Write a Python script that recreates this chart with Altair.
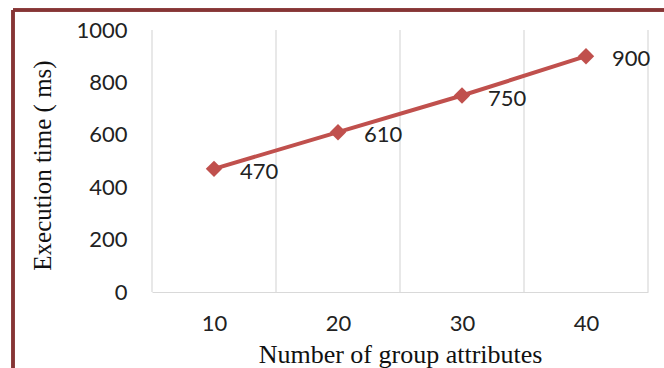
import altair as alt
import pandas as pd

attributes = [10, 20, 30, 40]
exec_time = [470, 610, 750, 900]
grid_positions = [5, 15, 25, 35, 45]

df = pd.DataFrame({"attr": attributes, "time": exec_time})
grid_df = pd.DataFrame({"g": grid_positions, "y0": [0] * 5, "y1": [1000] * 5})

LABEL_FONT = "Lato"
TITLE_FONT = "Liberation Serif"
RED = "#C0504D"

x_scale = alt.Scale(domain=[5, 45], nice=False)
y_scale = alt.Scale(domain=[0, 1000], nice=False)

x_axis = alt.Axis(
    values=attributes,
    format="d",
    title="Number of group attributes",
    titleFont=TITLE_FONT,
    titleFontSize=26,
    titleFontWeight="normal",
    titleColor="#111111",
    titleY=62,
    titleBaseline="middle",
    labelFont=LABEL_FONT,
    labelFontSize=22,
    labelColor="#222222",
    labelPadding=21,
    ticks=False,
    grid=False,
    domainColor="#D9D9D9",
    domainWidth=1.2,
)
y_axis = alt.Axis(
    values=[0, 200, 400, 600, 800, 1000],
    format="d",
    title="Execution time ( ms)",
    titleFont=TITLE_FONT,
    titleFontSize=25,
    titleFontWeight="normal",
    titleColor="#111111",
    titleX=-110,
    titleY=135,
    titleBaseline="middle",
    titleAlign="center",
    labelFont=LABEL_FONT,
    labelFontSize=22,
    labelColor="#222222",
    labelPadding=25,
    ticks=False,
    grid=False,
    domain=False,
)

grid = alt.Chart(grid_df).mark_rule(color="#D9D9D9", strokeWidth=1.2).encode(
    x=alt.X("g:Q", scale=x_scale, axis=x_axis),
    y=alt.Y("y0:Q", scale=y_scale, axis=y_axis),
    y2="y1:Q",
)

line = alt.Chart(df).mark_line(color=RED, strokeWidth=4).encode(
    x=alt.X("attr:Q", scale=x_scale),
    y=alt.Y("time:Q", scale=y_scale),
)

points = alt.Chart(df).mark_point(
    shape="diamond", filled=True, color=RED, size=270, opacity=1
).encode(x=alt.X("attr:Q", scale=x_scale), y=alt.Y("time:Q", scale=y_scale))

labels = alt.Chart(df).mark_text(
    align="left", baseline="middle", dx=26, dy=3, font=LABEL_FONT, fontSize=22, color="#222222"
).encode(
    x=alt.X("attr:Q", scale=x_scale),
    y=alt.Y("time:Q", scale=y_scale),
    text="time:Q",
)

border_left = alt.Chart(df).mark_rule(color="#863535", strokeWidth=3).encode(
    x=alt.value(-139), y=alt.value(-20), y2=alt.value(340)
)
border_top = alt.Chart(df).mark_rule(color="#863535", strokeWidth=3).encode(
    x=alt.value(-139), x2=alt.value(514), y=alt.value(-20)
)

chart = (
    alt.layer(grid, line, points, labels, border_left, border_top)
    .properties(
        width=496,
        height=262,
        autosize=alt.AutoSizeParams(type="none"),
        padding={"left": 152, "top": 30, "right": 16, "bottom": 76},
        background="white",
    )
    .configure_view(stroke=None)
)

chart.save("out.html", embed_options={"renderer": "svg", "actions": False})
